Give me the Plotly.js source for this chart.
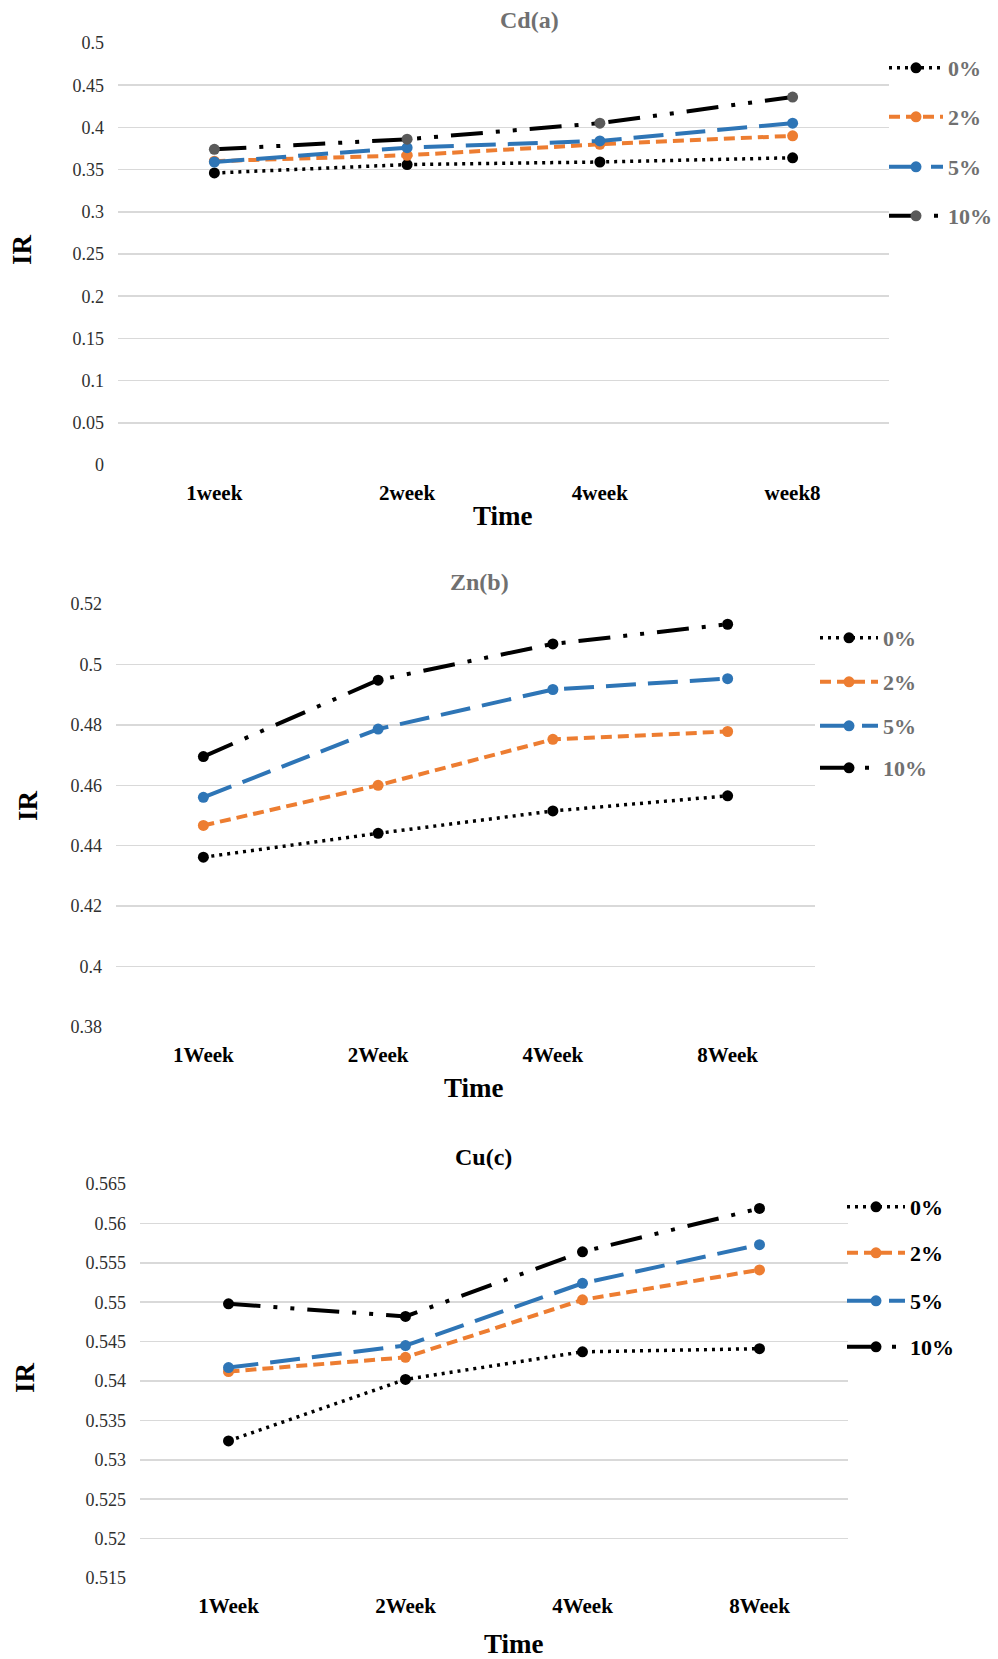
<!DOCTYPE html>
<html>
<head>
<meta charset="utf-8">
<script src="https://cdn.plot.ly/plotly-3.0.1.min.js"></script>
<style>
  html, body { margin: 0; padding: 0; background: #fff; }
  #chart { width: 998px; height: 1659px; }
</style>
</head>
<body>
<div id="chart"></div>
<script>
// ---- Data ----
const categoriesCd = ['1week', '2week', '4week', 'week8'];
const categoriesZn = ['1Week', '2Week', '4Week', '8Week'];
const categoriesCu = ['1Week', '2Week', '4Week', '8Week'];
const seriesNames = ['0%', '2%', '5%', '10%'];

const cd0  = [0.346, 0.356, 0.359, 0.364];
const cd2  = [0.360, 0.367, 0.380, 0.390];
const cd5  = [0.359, 0.376, 0.384, 0.405];
const cd10 = [0.374, 0.386, 0.405, 0.436];

const zn0  = [0.4362, 0.4441, 0.4515, 0.4565];
const zn2  = [0.4467, 0.4600, 0.4752, 0.4778];
const zn5  = [0.4560, 0.4786, 0.4917, 0.4953];
const zn10 = [0.4695, 0.4948, 0.5068, 0.5133];

const cu0  = [0.5324, 0.5402, 0.5437, 0.5441];
const cu2  = [0.5412, 0.5430, 0.5503, 0.5541];
const cu5  = [0.5417, 0.5445, 0.5524, 0.5573];
const cu10 = [0.5498, 0.5482, 0.5564, 0.5619];

const chartTitles = ['Cd(a)', 'Zn(b)', 'Cu(c)'];
const yAxisTitle = 'IR';
const xAxisTitle = 'Time';

// ---- Layout geometry (px) ----
const W = 998, H = 1659;
const FONT = '"Liberation Serif", "Times New Roman", serif';
const px = x => x / W;
const py = y => 1 - y / H;

const charts = [
  { cats: categoriesCd, data: [cd0, cd2, cd5, cd10], plot: [118, 889, 43, 465], range: [0, 0.5], dtick: 0.05,
    title: [529, 20, '#707070'], xt: [503, 516], yt: [22, 250], legX: 884, legW: 54, legY: [68, 117, 167, 216],
    legColor: '#707070', m10: '#5a5a5a' },
  { cats: categoriesZn, data: [zn0, zn2, zn5, zn10], plot: [116, 815, 604, 1027], range: [0.38, 0.52], dtick: 0.02,
    title: [479, 582, '#707070'], xt: [474, 1088], yt: [28, 806], legX: 815, legW: 58, legY: [638, 682, 726, 768],
    legColor: '#707070', m10: '#000000' },
  { cats: categoriesCu, data: [cu0, cu2, cu5, cu10], plot: [140, 848, 1184, 1578], range: [0.515, 0.565], dtick: 0.005,
    title: [483, 1157, '#000000'], xt: [514, 1644], yt: [25, 1378], legX: 842, legW: 58, legY: [1207, 1253, 1301, 1347],
    legColor: '#000000', m10: '#000000' }
];

const styles = [
  { color: '#000000', dash: '3px,5px', width: 3.5 },
  { color: '#ED7D31', dash: '11px,6px', width: 4 },
  { color: '#2E75B6', dash: '30px,12px', width: 4 },
  { color: '#000000', dash: '32px,13px,4px,13px,4px,13px', width: 4 }
];

const traces = [];
const layout = {
  width: W, height: H,
  margin: { l: 0, r: 0, t: 0, b: 0 },
  paper_bgcolor: '#ffffff', plot_bgcolor: '#ffffff',
  font: { family: FONT },
  showlegend: true,
  annotations: []
};

charts.forEach((c, ci) => {
  const sfx = ci === 0 ? '' : String(ci + 1);
  const xa = 'xaxis' + sfx, ya = 'yaxis' + sfx;
  const [x0, x1, y0, y1] = c.plot;
  layout[xa] = {
    domain: [px(x0), px(x1)], anchor: 'y' + sfx,
    type: 'category', range: [-0.5, 3.5],
    showgrid: false, zeroline: false, showline: false, ticks: '',
    ticklabelstandoff: 13,
    tickfont: { family: FONT, size: 21, color: '#000000', weight: 'bold' },
    fixedrange: true
  };
  layout[ya] = {
    domain: [py(y1), py(y0)], anchor: 'x' + sfx,
    range: c.range, dtick: c.dtick, tick0: c.range[0],
    showgrid: true, gridcolor: '#d9d9d9', gridwidth: 1.5,
    zeroline: false, showline: false, ticks: '',
    ticklabelstandoff: 13,
    tickfont: { family: FONT, size: 18, color: '#303030' },
    fixedrange: true
  };
  c.data.forEach((vals, si) => {
    const st = styles[si];
    const legName = (ci * 4 + si) === 0 ? 'legend' : 'legend' + (ci * 4 + si + 1);
    const mColor = si === 3 ? c.m10 : st.color;
    traces.push({
      type: 'scatter', mode: 'lines+markers',
      x: c.cats, y: vals, name: seriesNames[si],
      xaxis: 'x' + sfx, yaxis: 'y' + sfx,
      legend: legName, showlegend: true,
      line: { color: st.color, dash: st.dash, width: st.width },
      marker: { symbol: 'circle', size: 11, color: mColor, line: { width: 0 } },
      hoverinfo: 'skip'
    });
    layout[legName] = {
      visible: true,
      x: px(c.legX), y: py(c.legY[si]), xanchor: 'left', yanchor: 'middle',
      bgcolor: 'rgba(0,0,0,0)', borderwidth: 0, itemwidth: c.legW,
      font: { family: FONT, size: 22, color: c.legColor, weight: 'bold' },
      itemclick: false, itemdoubleclick: false
    };
  });
  layout.annotations.push({
    text: chartTitles[ci], showarrow: false, xref: 'paper', yref: 'paper',
    x: px(c.title[0]), y: py(c.title[1]), xanchor: 'center', yanchor: 'middle',
    font: { family: FONT, size: 24, color: c.title[2], weight: 'bold' }
  });
  layout.annotations.push({
    text: xAxisTitle, showarrow: false, xref: 'paper', yref: 'paper',
    x: px(c.xt[0]), y: py(c.xt[1]), xanchor: 'center', yanchor: 'middle',
    font: { family: FONT, size: 27, color: '#000000', weight: 'bold' }
  });
  layout.annotations.push({
    text: yAxisTitle, showarrow: false, xref: 'paper', yref: 'paper', textangle: -90,
    x: px(c.yt[0]), y: py(c.yt[1]), xanchor: 'center', yanchor: 'middle',
    font: { family: FONT, size: 27, color: '#000000', weight: 'bold' }
  });
});

Plotly.newPlot('chart', traces, layout, { displayModeBar: false, staticPlot: true });
</script>
</body>
</html>
